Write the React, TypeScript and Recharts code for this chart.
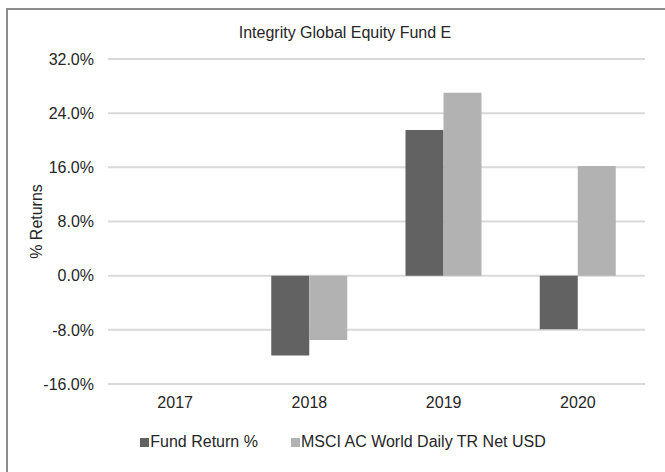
import React from 'react';
import { BarChart, Bar, XAxis, YAxis, CartesianGrid, Legend } from 'recharts';

const years = ['2017', '2018', '2019', '2020'];
const fundReturn: (number | null)[] = [null, -11.8, 21.5, -7.9];
const msciReturn: (number | null)[] = [null, -9.5, 27.0, 16.2];
const yTicks = [-16, -8, 0, 8, 16, 24, 32];
const title = 'Integrity Global Equity Fund E';
const seriesNames = ['Fund Return %', 'MSCI AC World Daily TR Net USD'];
const seriesColors = ['#626262', '#b2b2b2'];

const data = years.map((y, i) => ({ year: y, fund: fundReturn[i], msci: msciReturn[i] }));

const FONT = '"Liberation Sans", Arial, sans-serif';
const TEXT = '#262626';
const FS = 16;

const LegendContent = () => (
  <div style={{ display: 'flex', justifyContent: 'center', alignItems: 'center', fontFamily: FONT, fontSize: FS, color: TEXT }}>
    {seriesNames.map((n, i) => (
      <div key={n} style={{ display: 'flex', alignItems: 'center', marginRight: i === 0 ? 33 : 0 }}>
        <span style={{ display: 'inline-block', width: 9, height: 9, background: seriesColors[i], marginRight: 1 }} />
        <span>{n}</span>
      </div>
    ))}
  </div>
);

export default function App() {
  return (
    <div style={{ position: 'absolute', left: 0, top: 0, width: 665, height: 472, overflow: 'hidden', background: '#fff' }}>
      <div style={{ position: 'absolute', left: 6, top: 8, width: 700, height: 500, borderLeft: '2px solid #8c8c8c', borderTop: '2px solid #8c8c8c' }} />
      <div style={{ position: 'absolute', left: 0, top: 23, width: 690, textAlign: 'center', fontFamily: FONT, fontSize: FS, lineHeight: '20px', color: TEXT }}>
        {title}
      </div>
      <div style={{ position: 'absolute', left: 0, top: 0 }}>
        <BarChart width={665} height={472} data={data} margin={{ top: 59, right: 20, left: 0, bottom: 58 }} barGap={0} barSize={38}>
          <CartesianGrid vertical={false} stroke="#d9d9d9" strokeWidth={2} />
          <XAxis
            dataKey="year"
            axisLine={false}
            tickLine={false}
            tickMargin={7}
            height={30}
            tick={{ fontSize: FS, fill: TEXT, fontFamily: FONT }}
          />
          <YAxis
            width={108}
            domain={[-16, 32]}
            ticks={yTicks}
            axisLine={false}
            tickLine={false}
            tickMargin={8}
            tickFormatter={(v: number) => v.toFixed(1) + '%'}
            tick={{ fontSize: FS, fill: TEXT, fontFamily: FONT }}
            label={{ value: '% Returns', angle: -90, position: 'center', dx: -18, fontSize: FS, fill: TEXT, fontFamily: FONT }}
          />
          <Legend
            layout="horizontal"
            verticalAlign="middle"
            align="center"
            wrapperStyle={{ top: 433, left: 0, width: 686 }}
            content={() => <LegendContent />}
          />
          <Bar dataKey="fund" name={seriesNames[0]} fill={seriesColors[0]} isAnimationActive={false} />
          <Bar dataKey="msci" name={seriesNames[1]} fill={seriesColors[1]} isAnimationActive={false} />
        </BarChart>
      </div>
    </div>
  );
}
